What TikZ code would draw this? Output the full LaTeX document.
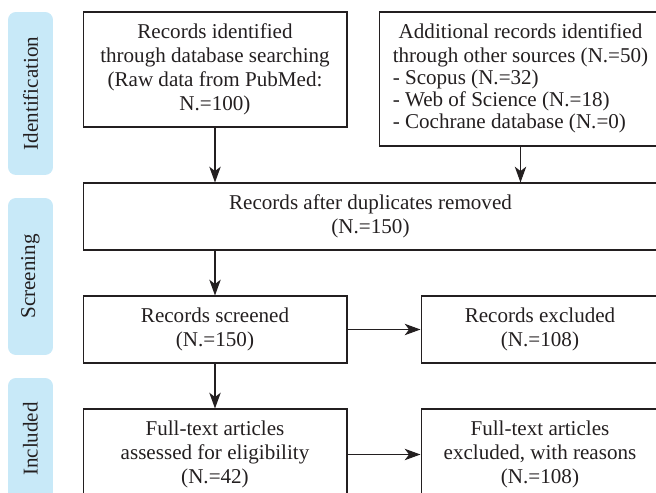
\documentclass[tikz,border=0pt]{standalone}
\usepackage{fontspec}
\setmainfont{Liberation Serif}
\usetikzlibrary{arrows.meta}
\definecolor{sideblue}{RGB}{200,233,248}
\definecolor{inkgray}{RGB}{35,31,32}
\begin{document}
\begin{tikzpicture}[x=0.02cm,y=-0.02cm,
    every node/.style={font=\fontsize{12}{13.6}\selectfont,text=inkgray},
    box/.style={anchor=center,draw=inkgray,line width=0.6pt,align=center,inner sep=2pt},
    side/.style={anchor=center,fill=sideblue,rounded corners=4.5pt,rotate=90,minimum height=0.9cm},
    arr/.style={draw=inkgray,line width=0.6pt,-{Stealth[length=9pt,width=6.5pt,inset=2.5pt]}}]
    \path[use as bounding box,clip] (0,0) rectangle (656,493);
    %% side labels
    \node[side,minimum width=3.26cm] (id) at (30.5,93.5) {Identification};
    \node[side,minimum width=3.14cm] (scr) at (30.5,276.5) {Screening};
    \node[side,minimum width=2.44cm] (inc) at (30.5,439) {Included};
    %% identification
    \node[box,minimum width=5.28cm,minimum height=2.3cm] (A) at (215,69.5)
        {Records identified\\through database searching\\(Raw data from PubMed:\\N.=100)};
    \node[box,minimum width=5.66cm,minimum height=2.68cm] (B) at (520.5,79)
        {\begin{tabular}{@{}l@{}}
        \multicolumn{1}{@{}c@{}}{Additional records identified}\\
        \multicolumn{1}{@{}c@{}}{through other sources (N.=50)}\\[-1pt]
        - Scopus (N.=32)\\[-1pt]
        - Web of Science (N.=18)\\[-1pt]
        - Cochrane database (N.=0)
        \end{tabular}};
    %% screening
    \node[box,minimum width=11.5cm,minimum height=1.34cm] (C) at (370.5,216.5)
        {Records after duplicates removed\\(N.=150)};
    \node[box,minimum width=5.28cm,minimum height=1.34cm] (D) at (215,329.5)
        {Records screened\\(N.=150)};
    \node[box,minimum width=4.76cm,minimum height=1.34cm] (E) at (540,329.5)
        {Records excluded\\(N.=108)};
    %% included
    \node[box,minimum width=5.28cm,minimum height=1.82cm] (F) at (215,454.5)
        {Full-text articles\\assessed for eligibility\\(N.=42)};
    \node[box,minimum width=4.76cm,minimum height=1.82cm] (G) at (540,454.5)
        {Full-text articles\\excluded, with reasons\\(N.=108)};
    %% arrows
    \draw[arr] (A.south) -- (A.south |- C.north);
    \draw[arr] (B.south) -- (B.south |- C.north);
    \draw[arr] (D.north |- C.south) -- (D.north);
    \draw[arr] (D.east) -- (E.west);
    \draw[arr] (D.south) -- (F.north);
    \draw[arr] (F.east) -- (G.west);
\end{tikzpicture}
\end{document}
